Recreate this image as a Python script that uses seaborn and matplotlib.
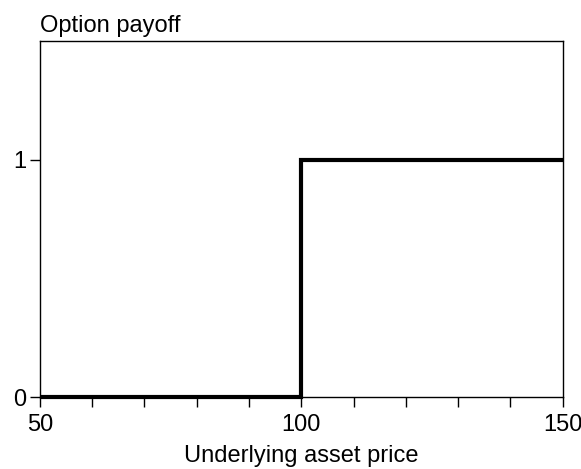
import matplotlib
matplotlib.use('Agg')
import pandas as pd
import seaborn as sns
import matplotlib.pyplot as plt
from matplotlib.ticker import MultipleLocator

# digital (cash-or-nothing) call payoff, strike 100
price = [50, 100, 100, 150]
payoff = [0, 0, 1, 1]

df = pd.DataFrame({'price': price, 'payoff': payoff})

sns.set_style('ticks')
plt.rcParams['font.family'] = ['Liberation Sans', 'DejaVu Sans']

fig = plt.figure(figsize=(5.81, 4.69), dpi=100)
ax = fig.add_axes([0.0688, 0.1535, 0.8995, 0.7595])

sns.lineplot(data=df, x='price', y='payoff', estimator=None, sort=False,
             color='black', linewidth=3, ax=ax, clip_on=False, zorder=5,
             solid_joinstyle='miter', solid_capstyle='butt')

ax.set_xlim(50, 150)
ax.set_ylim(0, 1.5)
ax.set_xticks([50, 100, 150])
ax.xaxis.set_minor_locator(MultipleLocator(10))
ax.set_yticks([0, 1])
ax.tick_params(axis='both', which='both', direction='out', length=7, width=1,
               color='black', labelsize=17, labelcolor='black')
ax.tick_params(axis='x', pad=5)
ax.tick_params(axis='y', pad=3)
for s in ax.spines.values():
    s.set_color('black')
    s.set_linewidth(1)

ax.set_xlabel('Underlying asset price', fontsize=17, color='black', labelpad=7)
ax.set_ylabel('')
ax.set_title('Option payoff', loc='left', fontsize=17, color='black', pad=6)

fig.savefig('out.png', dpi=100)
